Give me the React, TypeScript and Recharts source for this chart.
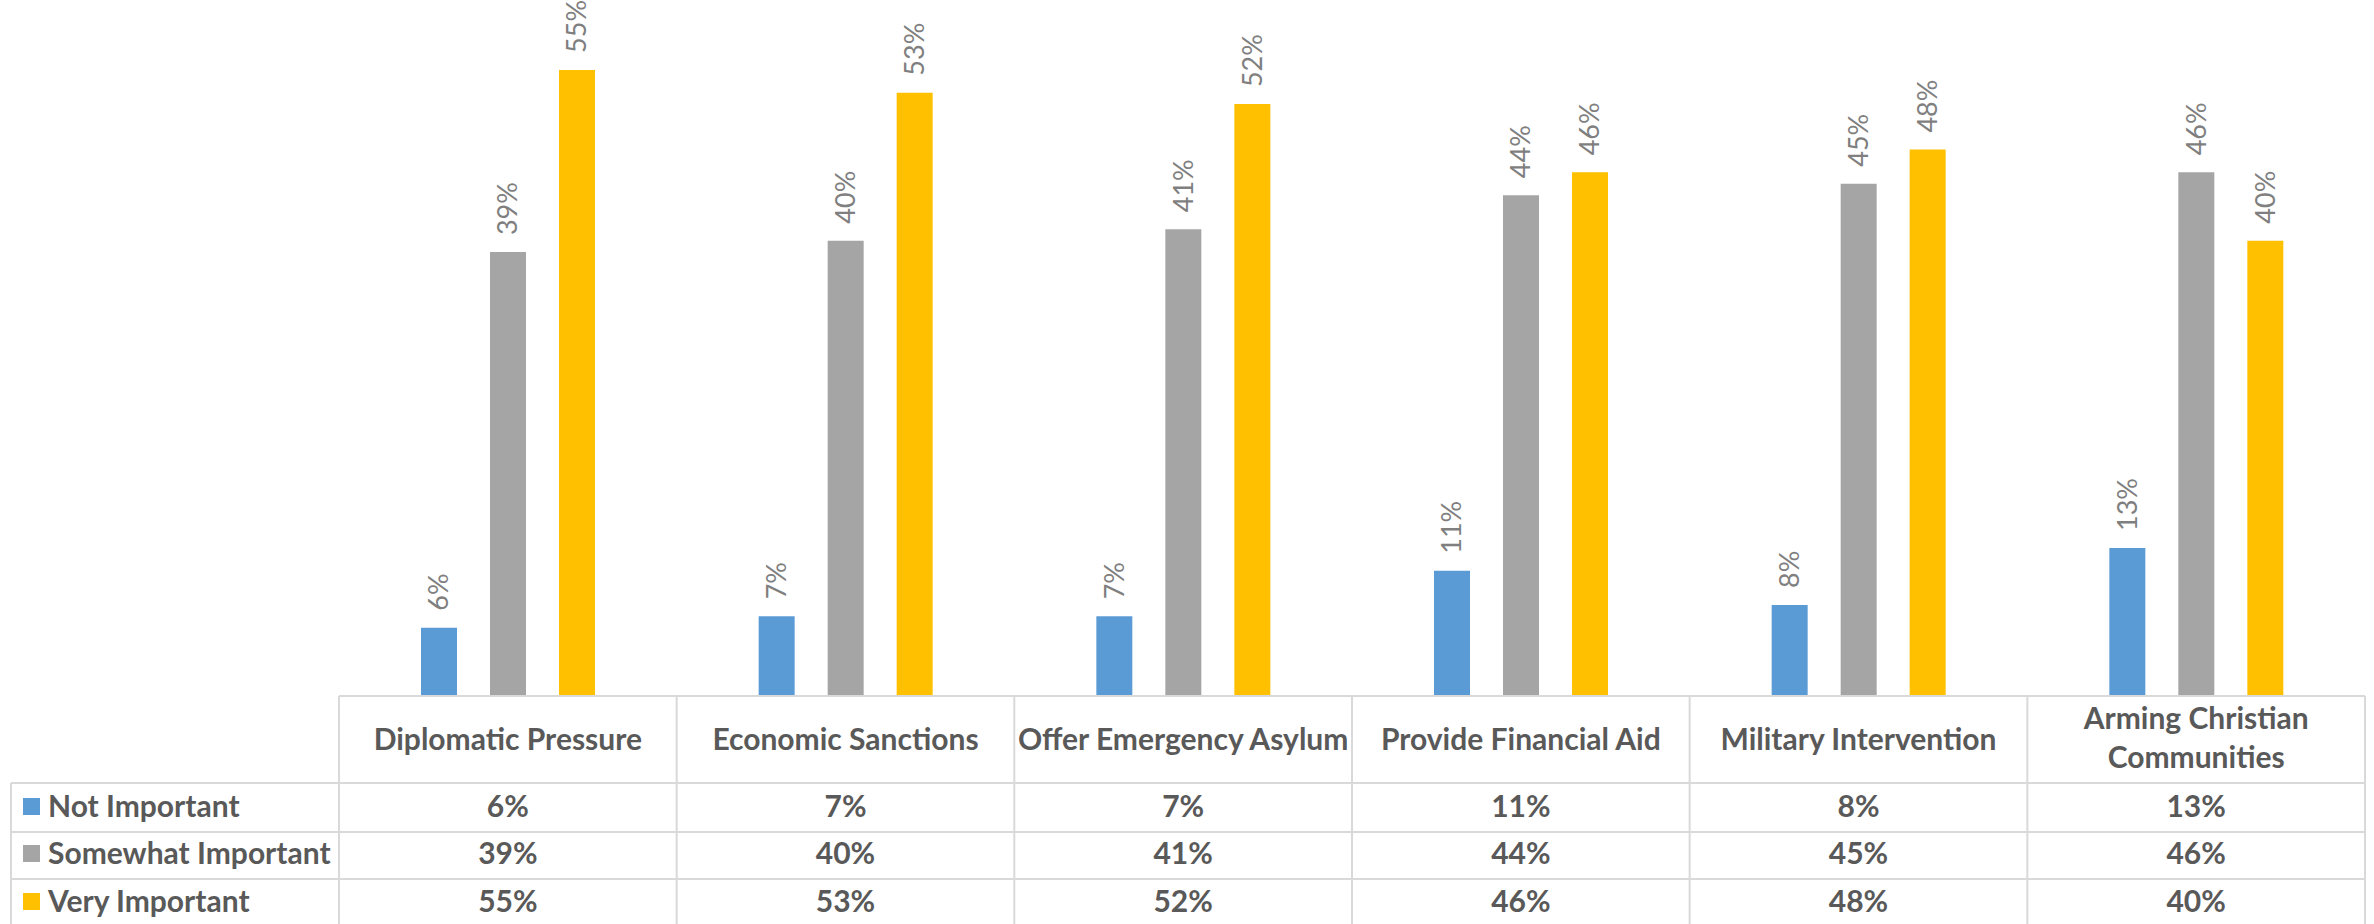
import { BarChart, Bar, XAxis, YAxis, LabelList } from "recharts";

const categories = [
  "Diplomatic Pressure",
  "Economic Sanctions",
  "Offer Emergency Asylum",
  "Provide Financial Aid",
  "Military Intervention",
  "Arming Christian Communities",
];
const seriesNames = ["Not Important", "Somewhat Important", "Very Important"];
const notImportant = [6, 7, 7, 11, 8, 13];
const somewhatImportant = [39, 40, 41, 44, 45, 46];
const veryImportant = [55, 53, 52, 46, 48, 40];

const COLORS = ["#5b9bd5", "#a5a5a5", "#ffc000"];
const KEYS = ["notImportant", "somewhatImportant", "veryImportant"];

const data = categories.map((name, i) => ({
  name,
  notImportant: notImportant[i],
  somewhatImportant: somewhatImportant[i],
  veryImportant: veryImportant[i],
}));

// layout
const W = 2374;
const H = 924;
const PLOT_LEFT = 339;
const PLOT_RIGHT = 2365;
const TABLE_TOP = 696;
const BAND = (PLOT_RIGHT - PLOT_LEFT) / categories.length;
const ROW_LINES = [783, 832, 879];
const ROW_BASE = [817, 864, 912];
const LINE = "#d9d9d9";
const TEXT = "#595959";
const FONT = "Lato, 'Open Sans', sans-serif";
const FS = 30;

function wrap(s: string) {
  if (s.length <= 24) return [s];
  const words = s.split(" ");
  return [words.slice(0, -1).join(" "), words[words.length - 1]];
}

function TableTick(props: any) {
  const { x, payload } = props;
  const i = payload.index;
  const left = x - BAND / 2;
  const right = x + BAND / 2;
  const lines = wrap(payload.value);
  const headerBase = lines.length === 1 ? [750] : [729, 768];
  const values = [notImportant[i], somewhatImportant[i], veryImportant[i]];

  return (
    <g fontFamily={FONT} fontWeight={700} fontSize={FS} fill={TEXT}>
      {i === 0 && (
        <g>
          <line x1={PLOT_LEFT} x2={PLOT_RIGHT} y1={TABLE_TOP} y2={TABLE_TOP} stroke={LINE} strokeWidth={2} />
          {ROW_LINES.map((y) => (
            <line key={y} x1={11} x2={PLOT_RIGHT} y1={y} y2={y} stroke={LINE} strokeWidth={2} />
          ))}
          <line x1={11} x2={11} y1={ROW_LINES[0]} y2={H} stroke={LINE} strokeWidth={2} />
          <line x1={left} x2={left} y1={TABLE_TOP} y2={H} stroke={LINE} strokeWidth={2} />
          {seriesNames.map((n, r) => (
            <g key={n}>
              <rect x={23} y={ROW_BASE[r] - 19} width={17} height={17} fill={COLORS[r]} />
              <text x={48} y={ROW_BASE[r]} stroke="none">
                {n}
              </text>
            </g>
          ))}
        </g>
      )}
      <line x1={right} x2={right} y1={TABLE_TOP} y2={H} stroke={LINE} strokeWidth={2} />
      {lines.map((l, k) => (
        <text key={k} x={x} y={headerBase[k]} textAnchor="middle" stroke="none">
          {l}
        </text>
      ))}
      {values.map((v, r) => (
        <text key={r} x={x} y={ROW_BASE[r]} textAnchor="middle" stroke="none">
          {v}%
        </text>
      ))}
    </g>
  );
}

function VLabel(props: any) {
  const { x, y, width, value } = props;
  return (
    <text
      transform={`translate(${x + width / 2}, ${y - 17}) rotate(-90)`}
      textAnchor="start"
      dy="0.35em"
      fontFamily={FONT}
      fontSize={27}
      fill="#7f7f7f"
    >
      {value}%
    </text>
  );
}

export default function App() {
  return (
    <div style={{ position: "absolute", left: 0, top: 0, width: W, height: H, background: "#fff" }}>
      <BarChart
        width={W}
        height={H}
        data={data}
        margin={{ top: 13, right: W - PLOT_RIGHT, left: PLOT_LEFT, bottom: 0 }}
        barSize={36}
        barGap={33}
      >
        <XAxis
          dataKey="name"
          height={H - TABLE_TOP}
          axisLine={false}
          tickLine={false}
          interval={0}
          tick={<TableTick />}
        />
        <YAxis hide domain={[0, 60]} />
        {KEYS.map((k, s) => (
          <Bar key={k} dataKey={k} name={seriesNames[s]} fill={COLORS[s]} isAnimationActive={false}>
            <LabelList dataKey={k} content={<VLabel />} />
          </Bar>
        ))}
      </BarChart>
    </div>
  );
}
